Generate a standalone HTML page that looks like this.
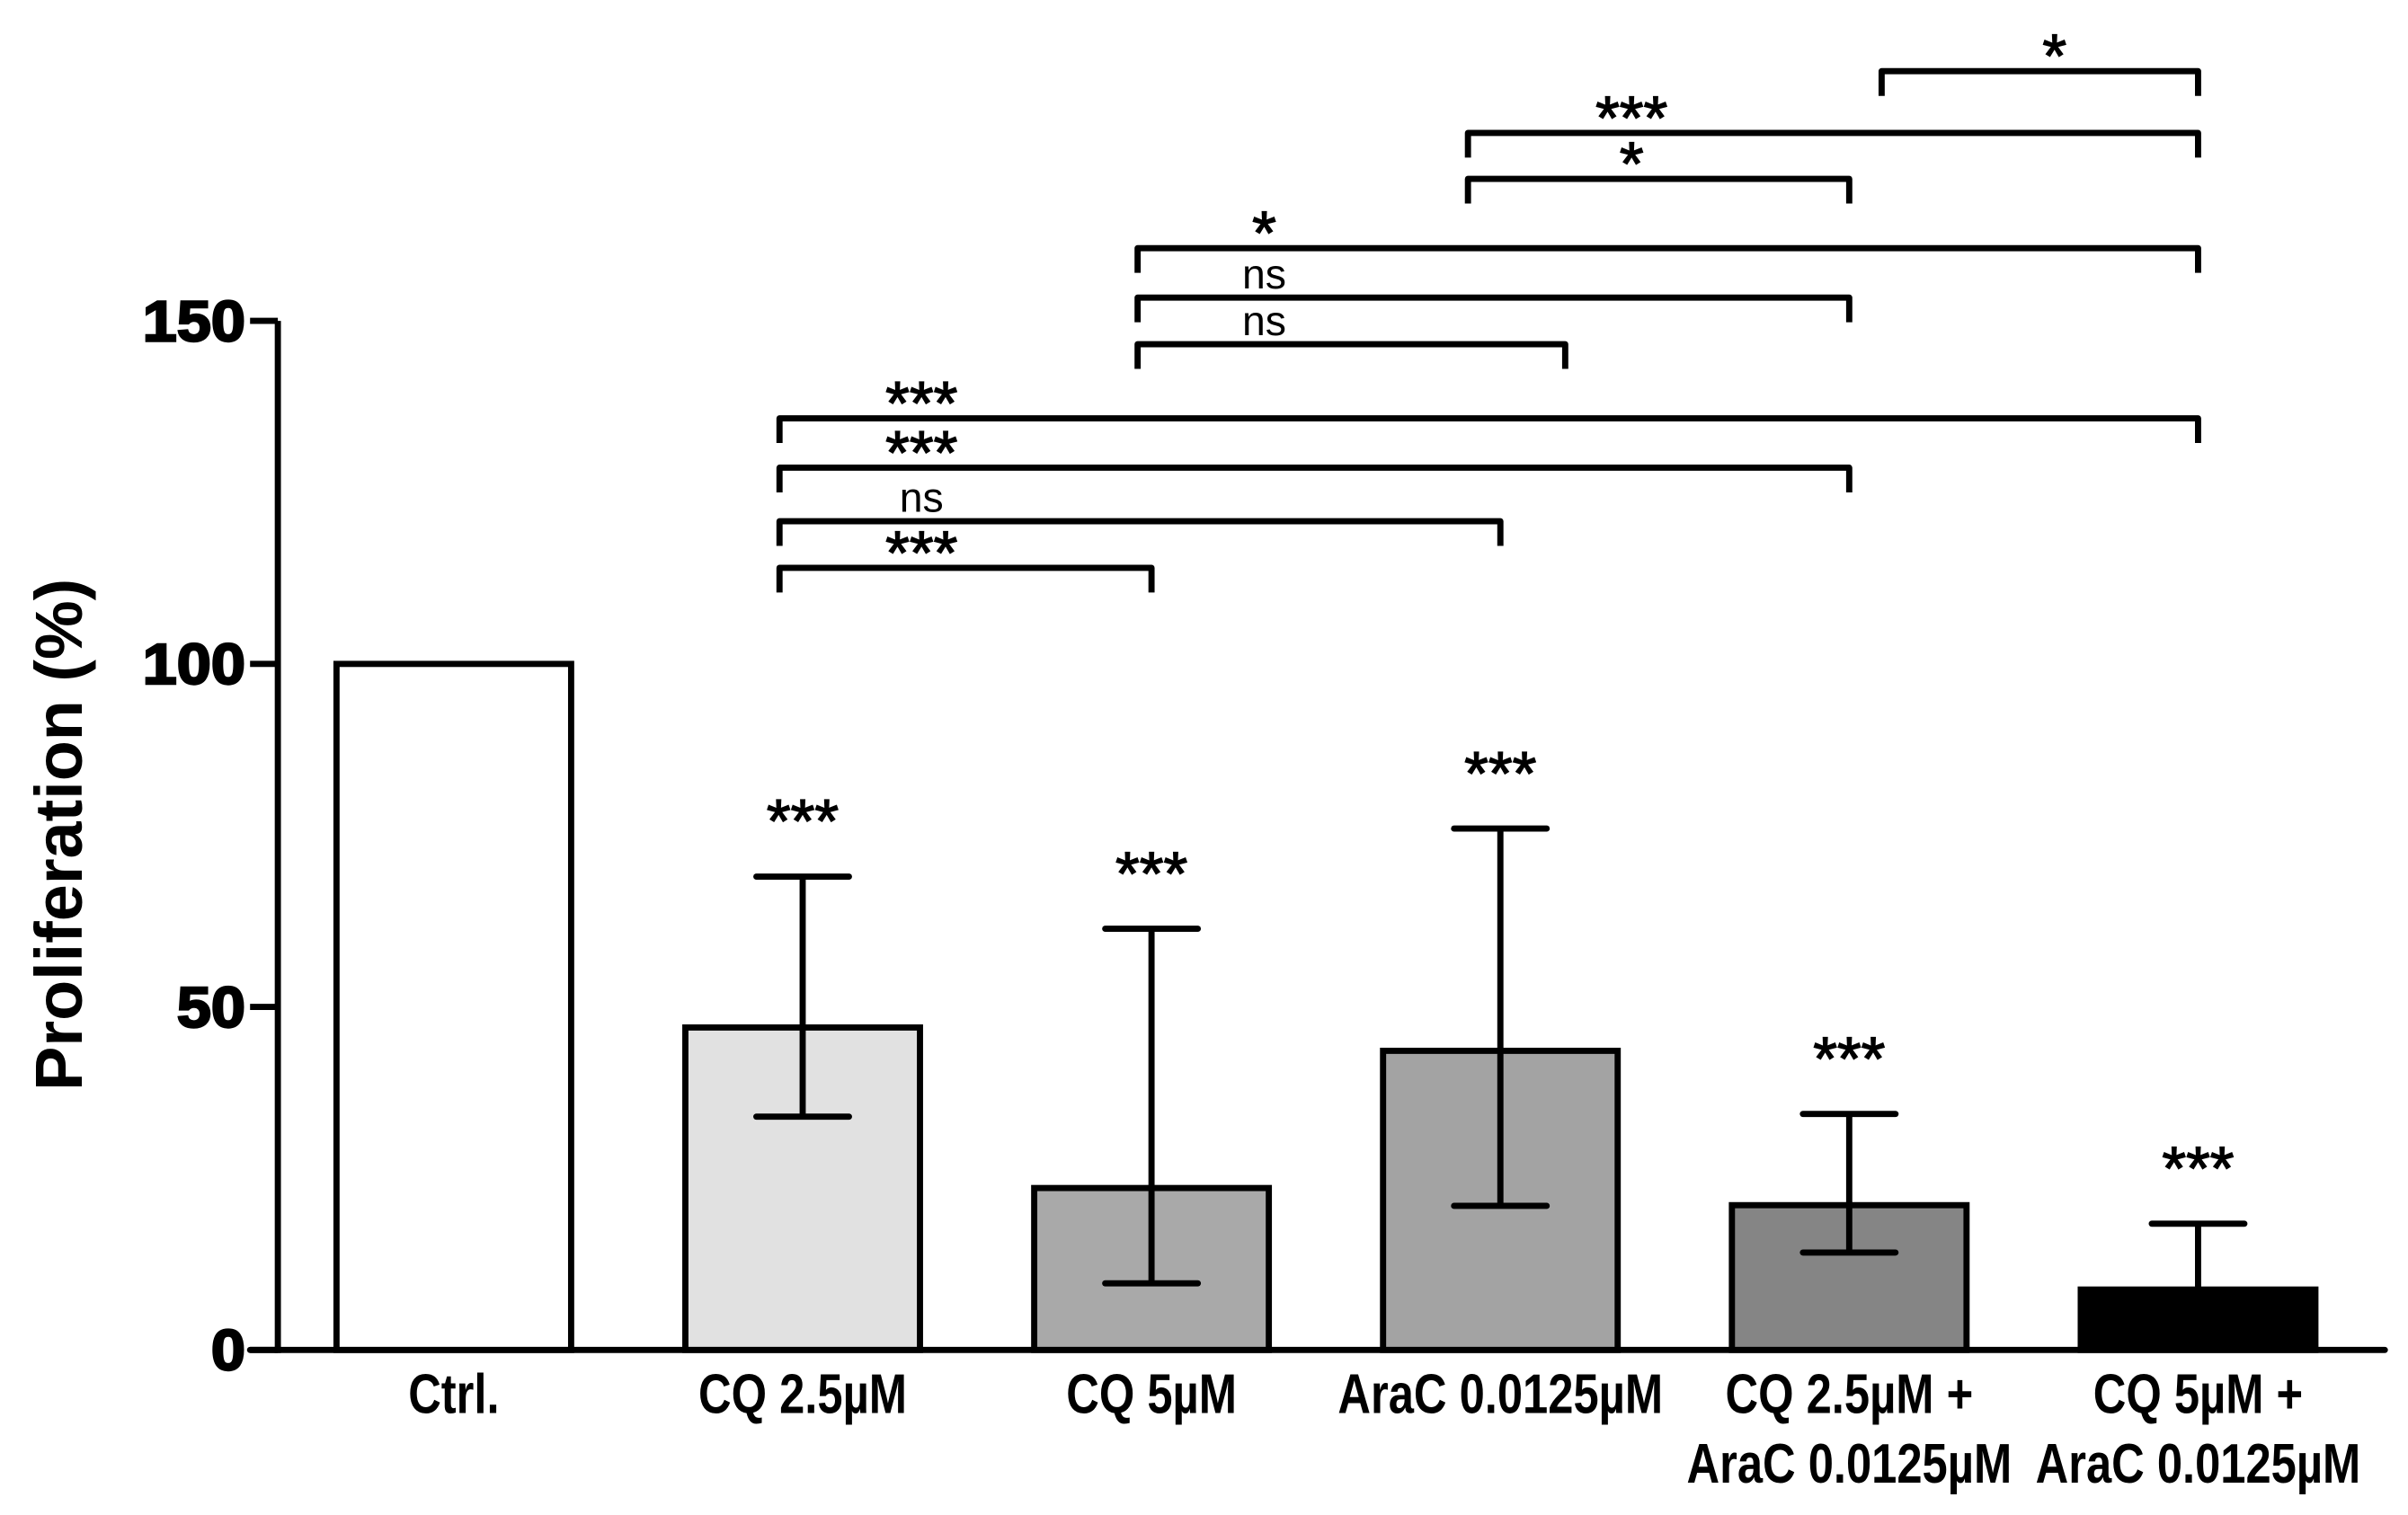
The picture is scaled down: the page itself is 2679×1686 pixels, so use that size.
<!DOCTYPE html>
<html><head><meta charset="utf-8"><style>
html,body{margin:0;padding:0;background:#fff;}
svg{display:block;}
text{font-family:"Liberation Sans",sans-serif;}
</style></head><body>
<svg id="chart" width="2679" height="1686" viewBox="0 0 1560 982" preserveAspectRatio="none" xmlns="http://www.w3.org/2000/svg">
<g id="axes"></g>
<g id="bars"></g>
<g id="brackets"></g>
</svg>
<script>
const categories = ["Ctrl.", "CQ 2.5µM", "CQ 5µM", "AraC 0.0125µM", "CQ 2.5µM +|AraC 0.0125µM", "CQ 5µM +|AraC 0.0125µM"];
const means = [100, 47, 23.6, 43.6, 21.1, 8.8];
const errUpper = [100, 69, 61.4, 76, 34.4, 18.4];
const errLower = [100, 34, 9.7, 21, 14.2, 8.8];
const sigLabels = ["", "***", "***", "***", "***", "***"];
const fills = ["#ffffff", "#e1e1e1", "#a9a9a9", "#a3a3a3", "#858585", "#000000"];
const yTicks = [0, 50, 100, 150];
const compA = [1, 1, 1, 1, 2, 2, 2, 3, 3, 4];
const compB = [2, 3, 4, 5, 3, 4, 5, 4, 5, 5];
const compLabel = ["***", "ns", "***", "***", "ns", "ns", "*", "*", "***", "*"];
const compY = [114, 120.8, 128.6, 135.8, 146.6, 153.4, 160.6, 170.7, 177.4, 186.4];

const NS = "http://www.w3.org/2000/svg";
const y0 = 875, yTop = 208, axisX = 180;
function y(v){ return y0 - (v/150)*(y0-yTop); }
function xCenter(i){ return 294 + i*226; }
const barW = 152;
const leftOff = [0, -15, -9, -21, 21];
const labelOff = [0, 92, 82, 106, 112];
function mk(tag, attrs, parent){ const e=document.createElementNS(NS,tag); for(const k in attrs) e.setAttribute(k,attrs[k]); parent.appendChild(e); return e; }
const axes=document.getElementById('axes'), bars=document.getElementById('bars'), br=document.getElementById('brackets');

const yAxis = mk('line',{x1:axisX,y1:yTop,x2:axisX,y2:y0+2,stroke:'#000','stroke-width':4},axes);


const xAxis = mk('line',{x1:162,y1:y0,x2:1545,y2:y0,stroke:'#000','stroke-width':4,'stroke-linecap':'round'},axes);


yTicks.forEach(t=>{
  const tk=mk('line',{x1:162,y1:y(t),x2:axisX,y2:y(t),stroke:'#000','stroke-width':4},axes);
  
  
  const tl=mk('text',{x:0,y:0,transform:`translate(159,${y(t)+13}) scale(1.08,1)`,'text-anchor':'end','font-size':37,'font-weight':'bold','stroke':'#000','stroke-width':1.4},axes);
  tl.textContent=t;
  
  
});
const yt=mk('text',{x:0,y:0,transform:'translate(53,541) rotate(-90)','text-anchor':'middle','font-size':43,'font-weight':'bold'},axes);
yt.textContent='Proliferation (%)';



categories.forEach((c,i)=>{
  const cx=xCenter(i);
  const r=mk('rect',{x:cx-barW/2,y:y(means[i]),width:barW,height:y0-y(means[i]),fill:fills[i],stroke:'#000','stroke-width':4},bars);
  
  
  if(errUpper[i]>means[i]){
    const e=mk('line',{x1:cx,y1:y(errUpper[i]),x2:cx,y2:y(errLower[i]),stroke:'#000','stroke-width':4},bars);
    
    
    const cap=mk('line',{x1:cx-30,y1:y(errUpper[i]),x2:cx+30,y2:y(errUpper[i]),stroke:'#000','stroke-width':4,'stroke-linecap':'round'},bars);
    
    
    if(errLower[i]<means[i]){
      const cap2=mk('line',{x1:cx-30,y1:y(errLower[i]),x2:cx+30,y2:y(errLower[i]),stroke:'#000','stroke-width':4,'stroke-linecap':'round'},bars);
      
      
    }
  }
  if(sigLabels[i]){
    const s=mk('text',{x:cx,y:y(errUpper[i])-22,'text-anchor':'middle','font-size':40,'stroke':'#000','stroke-width':0.8},bars);
    s.textContent=sigLabels[i];
    
    
  }
  const lines=c.split('|');
  lines.forEach((ln,k)=>{
    const t=mk('text',{x:0,y:0,transform:`translate(${cx},${916+k*45}) scale(0.82,1)`,'text-anchor':'middle','font-size':36,'font-weight':'bold'},bars);
    t.textContent=ln;
    
    
  });
});

compA.forEach((a,j)=>{
  const b=compB[j];
  const yy=y(compY[j]);
  const left = xCenter(a)+leftOff[a];
  const right = xCenter(b) + ((a===2 && b===3) ? 42 : 0);
  const p=mk('path',{d:`M${left} ${yy+16} L${left} ${yy} L${right} ${yy} L${right} ${yy+16}`,fill:'none',stroke:'#000','stroke-width':4,'stroke-linejoin':'round'},br);
  
  
  const lx = left + labelOff[a];
  const isNs = compLabel[j]==='ns';
  const t=mk('text',{x:lx,y:isNs?yy-6:yy+4,'text-anchor':'middle','font-size':isNs?27:40,'stroke':'#000','stroke-width':isNs?0:0.8},br);
  t.textContent=compLabel[j];
  
  
});
</script>
</body></html>
